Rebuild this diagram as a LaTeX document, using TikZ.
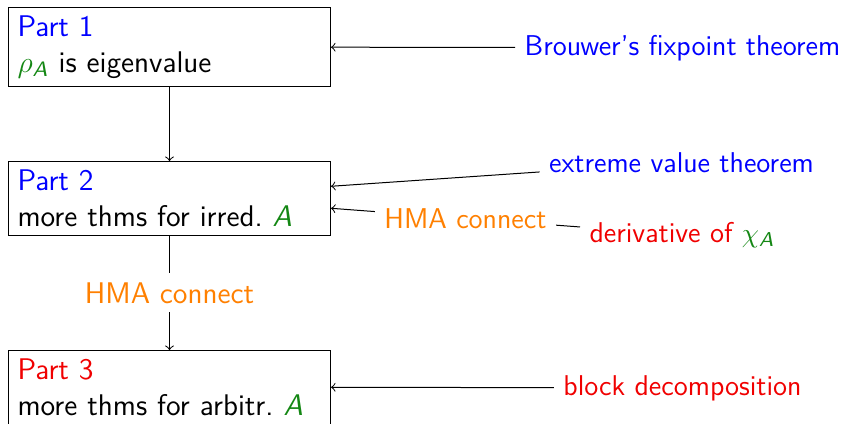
\documentclass[tikz,border=0pt]{standalone}
\usepackage{amsmath}
\renewcommand\familydefault{\sfdefault}
\definecolor{thmgreen}{RGB}{20,135,20}
\definecolor{thmblue}{RGB}{0,0,255}
\definecolor{thmred}{RGB}{240,0,0}
\definecolor{thmorange}{RGB}{255,128,0}
\newcommand\gA{{\color{thmgreen}\text{\slshape A}}}
\begin{document}
\begin{tikzpicture}[x=0.4pt,y=-0.4pt,
  every node/.style={font=\fontsize{11.45}{14}\selectfont},
  bigfont/.style={font=\fontsize{11.95}{14.2}\selectfont},
  partbox/.style={bigfont, draw, text width=121.6pt, align=left, inner xsep=3.6pt, inner ysep=3.4pt, anchor=north west, line width=0.4pt},
  sidelab/.style={anchor=base, inner sep=3.6pt},
  conn/.style={->, line width=0.4pt},
  hma/.style={fill=white, text=thmorange, inner sep=3.6pt}]
\useasboundingbox (0,0) rectangle (865,423);
\clip (0,0) rectangle (865,423);

\node[partbox] (p1) at (8,7) {{\color{thmblue}Part 1}\\ $\color{thmgreen}\rho_{\text{\slshape A}}$ is eigenvalue};
\node[partbox] (p2) at (8,161) {{\color{thmblue}Part 2}\\ more thms for irred.\ $\gA$};
\node[partbox] (p3) at (8,350) {{\color{thmred}Part 3}\\ more thms for arbitr.\ $\gA$};

\node[sidelab, text=thmblue] (brouwer) at (682.5,55) {Brouwer's fixpoint theorem};
\node[sidelab, text=thmblue] (extreme) at (681.5,172) {extreme value theorem};
\node[sidelab, text=thmred] (deriv) at (682,242) {derivative of $\color{thmgreen}\chi_{\text{\slshape A}}$};
\node[sidelab, text=thmred] (block) at (682.5,395) {block decomposition};

\draw[conn] (p1) -- (p2);
\draw[conn] (p2) -- node[hma, bigfont] (hmav) {HMA connect} (p3);

\draw[conn] (brouwer) -- (p1.east);
\draw[conn] (extreme) -- ([yshift=4.8pt]p2.east);
\draw[conn] (deriv) -- node[hma, pos=0.46] (hmah) {HMA connect} ([yshift=-4pt]p2.east);
\draw[conn] (block) -- (p3.east);
\end{tikzpicture}
\end{document}
